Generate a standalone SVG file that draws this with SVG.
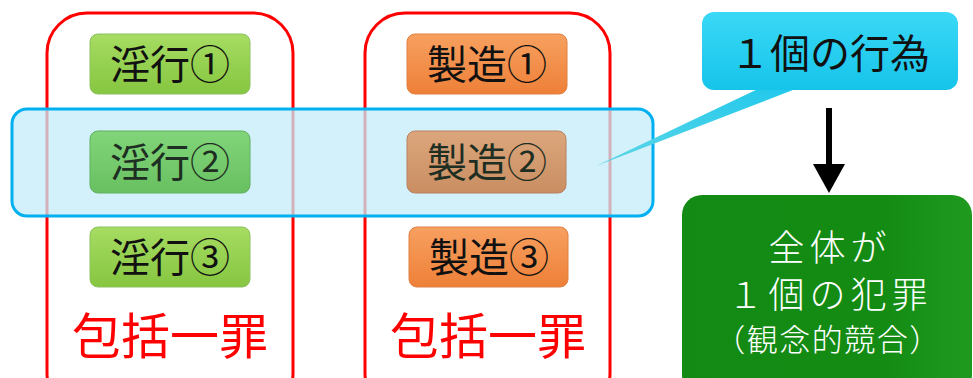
<svg xmlns="http://www.w3.org/2000/svg" width="973" height="378" viewBox="0 0 973 378">
<defs>
<linearGradient id="gGreen" x1="0" y1="0" x2="0" y2="1">
<stop offset="0" stop-color="#a6dc62"/><stop offset="1" stop-color="#86c640"/>
</linearGradient>
<linearGradient id="gGreen2" x1="0" y1="0" x2="0" y2="1">
<stop offset="0" stop-color="#82d57a"/><stop offset="1" stop-color="#68c060"/>
</linearGradient>
<linearGradient id="gOrange" x1="0" y1="0" x2="0" y2="1">
<stop offset="0" stop-color="#f7a060"/><stop offset="1" stop-color="#ee8038"/>
</linearGradient>
<linearGradient id="gOrange2" x1="0" y1="0" x2="0" y2="1">
<stop offset="0" stop-color="#dca67c"/><stop offset="1" stop-color="#c98e62"/>
</linearGradient>
<linearGradient id="gCyan" x1="0" y1="0" x2="0" y2="1">
<stop offset="0" stop-color="#3ad8f6"/><stop offset="1" stop-color="#16c4ea"/>
</linearGradient>
<linearGradient id="gTail" x1="1" y1="0" x2="0" y2="1">
<stop offset="0" stop-color="#20c8ec"/><stop offset="1" stop-color="#5fd6e6"/>
</linearGradient>
<linearGradient id="gDark" x1="0" y1="0" x2="1" y2="0">
<stop offset="0" stop-color="#138a13"/><stop offset="0.7" stop-color="#148c14"/><stop offset="1" stop-color="#1f9a1f"/>
</linearGradient>
<style>
.grp{fill:none;stroke:#ff0000;stroke-width:3}
.bt{font-family:"Noto Sans CJK JP","Noto Sans",sans-serif;font-size:40px;fill:#111;text-anchor:middle}
.bt2{fill:#1e2e22}
.red{font-family:"Noto Sans CJK JP",sans-serif;font-size:49px;fill:#ff0000;text-anchor:middle}
.wt{font-family:"Noto Sans CJK JP",sans-serif;fill:#ffffff;text-anchor:middle;font-weight:300}
</style>
</defs>
<rect width="973" height="378" fill="#ffffff"/>
<g id="group-left"><rect class="grp" x="47" y="13" width="246" height="400" rx="40"/>
<text class="red" x="170" y="354">包括一罪</text></g>
<g id="group-right"><rect class="grp" x="365" y="13" width="245" height="400" rx="40"/>
<text class="red" x="488" y="354">包括一罪</text></g>
<g id="highlight"><rect x="12" y="109" width="641" height="107" rx="15" fill="#c4ecf8" fill-opacity="0.75" stroke="#00b0f0" stroke-width="3"/></g>
<g id="inko1"><rect x="90" y="34" width="160" height="60" rx="8" fill="url(#gGreen)" stroke="#8cc060"/><text class="bt" x="170" y="79">淫行①</text></g>
<g id="inko2"><rect x="90" y="131" width="160" height="62" rx="8" fill="url(#gGreen2)" stroke="#60b060"/><text class="bt bt2" x="170" y="177">淫行②</text></g>
<g id="inko3"><rect x="90" y="227" width="160" height="60" rx="8" fill="url(#gGreen)" stroke="#8cc060"/><text class="bt" x="170" y="272">淫行③</text></g>
<g id="seizo1"><rect x="407" y="34" width="160" height="60" rx="8" fill="url(#gOrange)" stroke="#e08040"/><text class="bt" x="487" y="79">製造①</text></g>
<g id="seizo2"><rect x="407" y="131" width="159" height="62" rx="8" fill="url(#gOrange2)" stroke="#b88060"/><text class="bt bt2" x="487" y="177">製造②</text></g>
<g id="seizo3"><rect x="409" y="227" width="159" height="60" rx="8" fill="url(#gOrange)" stroke="#e08040"/><text class="bt" x="489" y="272">製造③</text></g>
<g id="callout">
<path d="M760,88 L798,88 L596,166 Z" fill="url(#gTail)"/>
<rect x="702" y="12" width="256" height="78" rx="12" fill="url(#gCyan)"/>
<text class="bt" x="830" y="68" font-size="38">１個の行為</text></g>
<g id="connectors">
<line x1="829" y1="108" x2="829" y2="168" stroke="#000" stroke-width="6"/>
<polygon points="813,164 845,164 829,193" fill="#000"/>
</g>
<g id="result">
<rect x="682" y="195" width="290" height="200" rx="20" fill="url(#gDark)"/>
<text class="wt" x="830" y="261" font-size="36" letter-spacing="5">全体が</text>
<text class="wt" x="830" y="308" font-size="36" letter-spacing="5">１個の犯罪</text>
<text class="wt" x="828" y="351" font-size="31" letter-spacing="1.5">（観念的競合）</text>
</g>
</svg>
